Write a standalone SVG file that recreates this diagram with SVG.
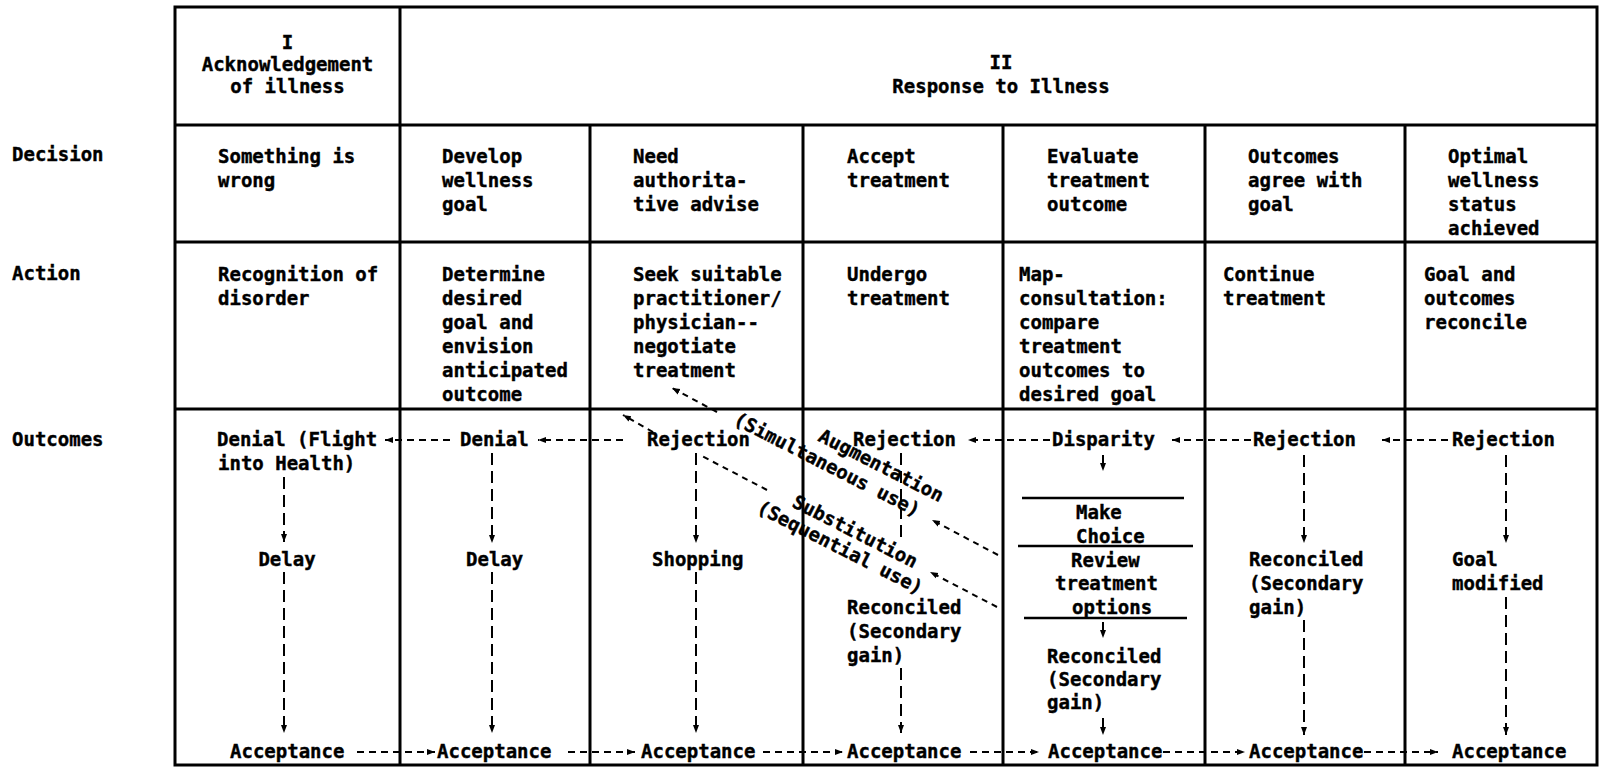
<svg xmlns="http://www.w3.org/2000/svg" width="1600" height="770" viewBox="0 0 1600 770">
<style>
.t{font-family:"DejaVu Sans Mono","Liberation Mono",monospace;font-weight:bold;font-size:19px;fill:#000;stroke:#000;stroke-width:0.4}
.c{text-anchor:middle}
.grid{stroke:#000;stroke-width:3;fill:none}
.dh{stroke:#000;stroke-width:2;stroke-dasharray:7 5;fill:none}
.dv{stroke:#000;stroke-width:2;stroke-dasharray:12 6;fill:none}
.dd{stroke:#000;stroke-width:2;stroke-dasharray:6 5;fill:none}
.sl{stroke:#000;stroke-width:2.5}
</style>
<defs>
<marker id="ah" markerWidth="9" markerHeight="8" refX="8" refY="4" orient="auto" markerUnits="userSpaceOnUse"><path d="M0,1 L8,4 L0,7 z" fill="#000"/></marker>
</defs>
<rect width="1600" height="770" fill="#fff"/>

<g id="grid">
<rect class="grid" x="175" y="7" width="1422" height="758"/>
<line class="grid" x1="175" y1="125" x2="1597" y2="125"/>
<line class="grid" x1="175" y1="242" x2="1597" y2="242"/>
<line class="grid" x1="175" y1="409" x2="1597" y2="409"/>
<line class="grid" x1="400" y1="7" x2="400" y2="765"/>
<line class="grid" x1="590" y1="125" x2="590" y2="765"/>
<line class="grid" x1="803" y1="125" x2="803" y2="765"/>
<line class="grid" x1="1003" y1="125" x2="1003" y2="765"/>
<line class="grid" x1="1205" y1="125" x2="1205" y2="765"/>
<line class="grid" x1="1405" y1="125" x2="1405" y2="765"/>
</g>

<g id="row-labels">
<text class="t" x="12" y="161">Decision</text>
<text class="t" x="12" y="280">Action</text>
<text class="t" x="12" y="446">Outcomes</text>
</g>

<g id="header-I">
<text class="t c" x="287.5" y="49">I</text>
<text class="t c" x="287.5" y="71">Acknowledgement</text>
<text class="t c" x="287.5" y="93">of illness</text>
</g>
<g id="header-II">
<text class="t c" x="1001" y="69">II</text>
<text class="t c" x="1001" y="93">Response to Illness</text>
</g>

<g id="decision-1"><text class="t" x="218" y="163">Something is</text><text class="t" x="218" y="187">wrong</text></g>
<g id="decision-2"><text class="t" x="442" y="163">Develop</text><text class="t" x="442" y="187">wellness</text><text class="t" x="442" y="211">goal</text></g>
<g id="decision-3"><text class="t" x="633" y="163">Need</text><text class="t" x="633" y="187">authorita-</text><text class="t" x="633" y="211">tive advise</text></g>
<g id="decision-4"><text class="t" x="847" y="163">Accept</text><text class="t" x="847" y="187">treatment</text></g>
<g id="decision-5"><text class="t" x="1047" y="163">Evaluate</text><text class="t" x="1047" y="187">treatment</text><text class="t" x="1047" y="211">outcome</text></g>
<g id="decision-6"><text class="t" x="1248" y="163">Outcomes</text><text class="t" x="1248" y="187">agree with</text><text class="t" x="1248" y="211">goal</text></g>
<g id="decision-7"><text class="t" x="1448" y="163">Optimal</text><text class="t" x="1448" y="187">wellness</text><text class="t" x="1448" y="211">status</text><text class="t" x="1448" y="235">achieved</text></g>

<g id="action-1"><text class="t" x="218" y="281">Recognition of</text><text class="t" x="218" y="305">disorder</text></g>
<g id="action-2"><text class="t" x="442" y="281">Determine</text><text class="t" x="442" y="305">desired</text><text class="t" x="442" y="329">goal and</text><text class="t" x="442" y="353">envision</text><text class="t" x="442" y="377">anticipated</text><text class="t" x="442" y="401">outcome</text></g>
<g id="action-3"><text class="t" x="633" y="281">Seek suitable</text><text class="t" x="633" y="305">practitioner/</text><text class="t" x="633" y="329">physician--</text><text class="t" x="633" y="353">negotiate</text><text class="t" x="633" y="377">treatment</text></g>
<g id="action-4"><text class="t" x="847" y="281">Undergo</text><text class="t" x="847" y="305">treatment</text></g>
<g id="action-5"><text class="t" x="1019" y="281">Map-</text><text class="t" x="1019" y="305">consultation:</text><text class="t" x="1019" y="329">compare</text><text class="t" x="1019" y="353">treatment</text><text class="t" x="1019" y="377">outcomes to</text><text class="t" x="1019" y="401">desired goal</text></g>
<g id="action-6"><text class="t" x="1223" y="281">Continue</text><text class="t" x="1223" y="305">treatment</text></g>
<g id="action-7"><text class="t" x="1424" y="281">Goal and</text><text class="t" x="1424" y="305">outcomes</text><text class="t" x="1424" y="329">reconcile</text></g>

<g id="out-denial-flight"><text class="t" x="217" y="446">Denial (Flight</text><text class="t" x="218" y="470">into Health)</text></g>
<g id="out-delay-1"><text class="t c" x="287" y="566">Delay</text></g>
<g id="out-accept-1"><text class="t" x="230" y="758">Acceptance</text></g>

<g id="out-denial-2"><text class="t" x="460" y="446">Denial</text></g>
<g id="out-delay-2"><text class="t" x="466" y="566">Delay</text></g>
<g id="out-accept-2"><text class="t" x="437" y="758">Acceptance</text></g>

<g id="out-rejection-3"><text class="t" x="647" y="446">Rejection</text></g>
<g id="out-shopping-3"><text class="t" x="652" y="566">Shopping</text></g>
<g id="out-accept-3"><text class="t" x="641" y="758">Acceptance</text></g>

<g id="out-rejection-4"><text class="t" x="853" y="446">Rejection</text></g>
<g id="out-reconciled-4"><text class="t" x="847" y="614">Reconciled</text><text class="t" x="847" y="638">(Secondary</text><text class="t" x="847" y="662">gain)</text></g>
<g id="out-accept-4"><text class="t" x="847" y="758">Acceptance</text></g>

<g id="out-disparity-5"><text class="t" x="1052" y="446">Disparity</text></g>
<g id="out-makechoice-5">
<line class="sl" x1="1022" y1="498" x2="1184" y2="498"/>
<text class="t" x="1076" y="519">Make</text>
<text class="t" x="1076" y="543">Choice</text>
<line class="sl" x1="1018" y1="546" x2="1193" y2="546"/>
<text class="t" x="1071" y="567">Review</text>
<text class="t" x="1055" y="590">treatment</text>
<text class="t" x="1072" y="614">options</text>
<line class="sl" x1="1024" y1="618" x2="1187" y2="618"/>
</g>
<g id="out-reconciled-5"><text class="t" x="1047" y="663">Reconciled</text><text class="t" x="1047" y="686">(Secondary</text><text class="t" x="1047" y="709">gain)</text></g>
<g id="out-accept-5"><text class="t" x="1048" y="758">Acceptance</text></g>

<g id="out-rejection-6"><text class="t" x="1253" y="446">Rejection</text></g>
<g id="out-reconciled-6"><text class="t" x="1249" y="566">Reconciled</text><text class="t" x="1249" y="590">(Secondary</text><text class="t" x="1249" y="614">gain)</text></g>
<g id="out-accept-6"><text class="t" x="1249" y="758">Acceptance</text></g>

<g id="out-rejection-7"><text class="t" x="1452" y="446">Rejection</text></g>
<g id="out-goal-7"><text class="t" x="1452" y="566">Goal</text><text class="t" x="1452" y="590">modified</text></g>
<g id="out-accept-7"><text class="t" x="1452" y="758">Acceptance</text></g>

<g id="connectors">
<line class="dh" x1="450" y1="440" x2="385" y2="440" marker-end="url(#ah)"/>
<line class="dh" x1="623" y1="440" x2="538" y2="440" marker-end="url(#ah)"/>
<line class="dh" x1="1050" y1="440" x2="968" y2="440" marker-end="url(#ah)"/>
<line class="dh" x1="1251" y1="440" x2="1172" y2="440" marker-end="url(#ah)"/>
<line class="dh" x1="1448" y1="440" x2="1382" y2="440" marker-end="url(#ah)"/>

<line class="dh" x1="357" y1="752" x2="435" y2="752" marker-end="url(#ah)"/>
<line class="dh" x1="568" y1="752" x2="635" y2="752" marker-end="url(#ah)"/>
<line class="dh" x1="763" y1="752" x2="843" y2="752" marker-end="url(#ah)"/>
<line class="dh" x1="970" y1="752" x2="1039" y2="752" marker-end="url(#ah)"/>
<line class="dh" x1="1163" y1="752" x2="1245" y2="752" marker-end="url(#ah)"/>
<line class="dh" x1="1364" y1="752" x2="1438" y2="752" marker-end="url(#ah)"/>

<line class="dv" x1="284" y1="477" x2="284" y2="542" marker-end="url(#ah)"/>
<line class="dv" x1="284" y1="572" x2="284" y2="733" marker-end="url(#ah)"/>
<line class="dv" x1="492" y1="453" x2="492" y2="543" marker-end="url(#ah)"/>
<line class="dv" x1="492" y1="572" x2="492" y2="733" marker-end="url(#ah)"/>
<line class="dv" x1="696" y1="453" x2="696" y2="543" marker-end="url(#ah)"/>
<line class="dv" x1="696" y1="572" x2="696" y2="733" marker-end="url(#ah)"/>
<line class="dv" x1="901" y1="453" x2="901" y2="542"/>
<line class="dv" x1="901" y1="668" x2="901" y2="733" marker-end="url(#ah)"/>
<line class="dv" x1="1103" y1="455" x2="1103" y2="471" marker-end="url(#ah)"/>
<line class="dv" x1="1103" y1="622" x2="1103" y2="638" marker-end="url(#ah)"/>
<line class="dv" x1="1103" y1="718" x2="1103" y2="735" marker-end="url(#ah)"/>
<line class="dv" x1="1304" y1="455" x2="1304" y2="543" marker-end="url(#ah)"/>
<line class="dv" x1="1304" y1="620" x2="1304" y2="735" marker-end="url(#ah)"/>
<line class="dv" x1="1506" y1="455" x2="1506" y2="543" marker-end="url(#ah)"/>
<line class="dv" x1="1506" y1="597" x2="1506" y2="735" marker-end="url(#ah)"/>

<line class="dd" x1="717" y1="412" x2="672" y2="388" marker-end="url(#ah)"/>
<line class="dd" x1="998" y1="555" x2="932" y2="520" marker-end="url(#ah)"/>
<line class="dd" x1="653" y1="432" x2="623" y2="415" marker-end="url(#ah)"/>
<line class="dd" x1="767" y1="490" x2="700" y2="455"/>
<line class="dd" x1="997" y1="607" x2="930" y2="572" marker-end="url(#ah)"/>
</g>

<g id="diag-labels">
<text class="t c" transform="translate(881,466) rotate(27)" y="6">Augmentation</text>
<text class="t c" transform="translate(827,465) rotate(27)" y="6">(Simultaneous use)</text>
<text class="t c" transform="translate(855,532) rotate(27)" y="6">Substitution</text>
<text class="t c" transform="translate(840,548) rotate(27)" y="6">(Sequential use)</text>
</g>
</svg>
